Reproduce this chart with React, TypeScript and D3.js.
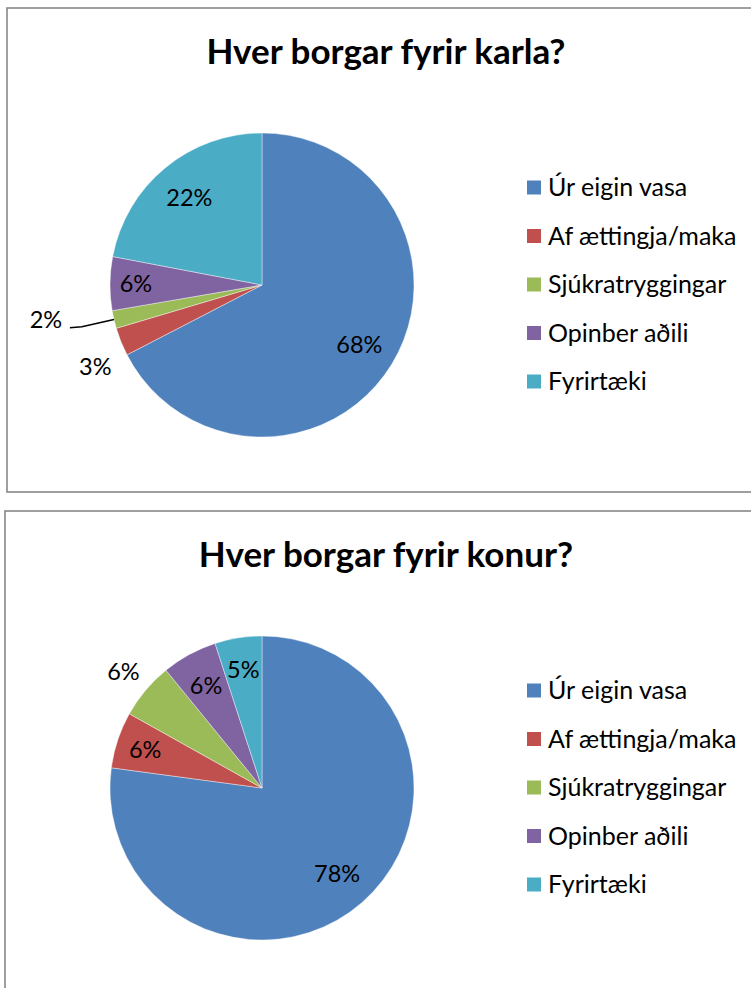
import React from 'react';
import * as d3 from 'd3';

// kategoríur og gildi (%)
const categories = ['Úr eigin vasa', 'Af ættingja/maka', 'Sjúkratryggingar', 'Opinber aðili', 'Fyrirtæki'];
const karlaValues = [67.4, 3.0, 1.9, 5.7, 22.0];
const karlaLabels = ['68%', '3%', '2%', '6%', '22%'];
const konurValues = [77.2, 6.0, 6.0, 5.9, 5.0];
const konurLabels = ['78%', '6%', '6%', '6%', '5%'];
const colors = ['#4F81BD', '#C0504D', '#9BBB59', '#8064A2', '#4BACC6'];

const FONT = 'Lato, "Open Sans", sans-serif';
const radius = 152;

type PieProps = {
  title: string;
  values: number[];
  labels: string[];
  labelRadius: number[];
  labelShift: number[];
  leader: boolean[];
  top: number;
  left: number;
};

const PiePanel = ({ title, values, labels, labelRadius, labelShift, leader, top, left }: PieProps) => {
  const pie = d3.pie<number>().sort(null).value((d) => d);
  const arcs = pie(values);
  const arc = d3.arc<d3.PieArcDatum<number>>().innerRadius(0).outerRadius(radius);
  const cx = 262;
  const cy = top + 277;
  const legendY = d3.scalePoint<string>().domain(categories).range([top + 179, top + 373]);

  return (
    <g>
      <rect x={left} y={top} width={760} height={484} fill="#fff" stroke="#888" strokeWidth={1.6} />
      <text x={386} y={top + 56} textAnchor="middle" fontFamily={FONT} fontWeight="bold" fontSize={35} fill="#000">
        {title}
      </text>
      <g transform={`translate(${cx},${cy})`}>
        {arcs.map((a, i) => (
          <path key={i} d={arc(a) || ''} fill={colors[i]} stroke="#fff" strokeWidth={0.4} />
        ))}
        {arcs.map((a, i) => {
          const mid = (a.startAngle + a.endAngle) / 2;
          const ang = mid + (labelShift[i] * Math.PI) / 180;
          const r = radius * labelRadius[i];
          const x = Math.sin(ang) * r;
          const y = -Math.cos(ang) * r;
          const txt = (
            <text x={x} y={y} textAnchor="middle" dy="0.36em" fontFamily={FONT} fontSize={23.5} fill="#000">
              {labels[i]}
            </text>
          );
          if (leader[i]) {
            const ex = Math.sin(mid) * radius;
            const ey = -Math.cos(mid) * radius;
            return (
              <g key={i}>
                <polyline
                  points={`${ex},${ey} ${x + 36},${y + 7} ${x + 24},${y + 8}`}
                  fill="none"
                  stroke="#000"
                  strokeWidth={1.5}
                />
                {txt}
              </g>
            );
          }
          return <g key={i}>{txt}</g>;
        })}
      </g>
      {categories.map((c, i) => (
        <g key={c} transform={`translate(527,${legendY(c)})`}>
          <rect x={0} y={-6.5} width={14} height={14} fill={colors[i]} />
          <text x={21} y={0} dy="0.36em" fontFamily={FONT} fontSize={25} fill="#000">
            {c}
          </text>
        </g>
      ))}
    </g>
  );
};

export default function App() {
  return (
    <svg width={751} height={988} style={{ position: 'absolute', left: 0, top: 0 }}>
      <rect width={751} height={988} fill="#fff" />
      <PiePanel
        title="Hver borgar fyrir karla?"
        values={karlaValues}
        labels={karlaLabels}
        labelRadius={[0.75, 1.22, 1.44, 0.83, 0.75]}
        labelShift={[0, -4, 4, 0, 0]}
        leader={[false, false, true, false, false]}
        top={8}
        left={7}
      />
      <PiePanel
        title="Hver borgar fyrir konur?"
        values={konurValues}
        labels={konurLabels}
        labelRadius={[0.75, 0.81, 1.19, 0.77, 0.79]}
        labelShift={[0, 0, 0, 0, 0]}
        leader={[false, false, false, false, false]}
        top={511}
        left={5}
      />
    </svg>
  );
}
